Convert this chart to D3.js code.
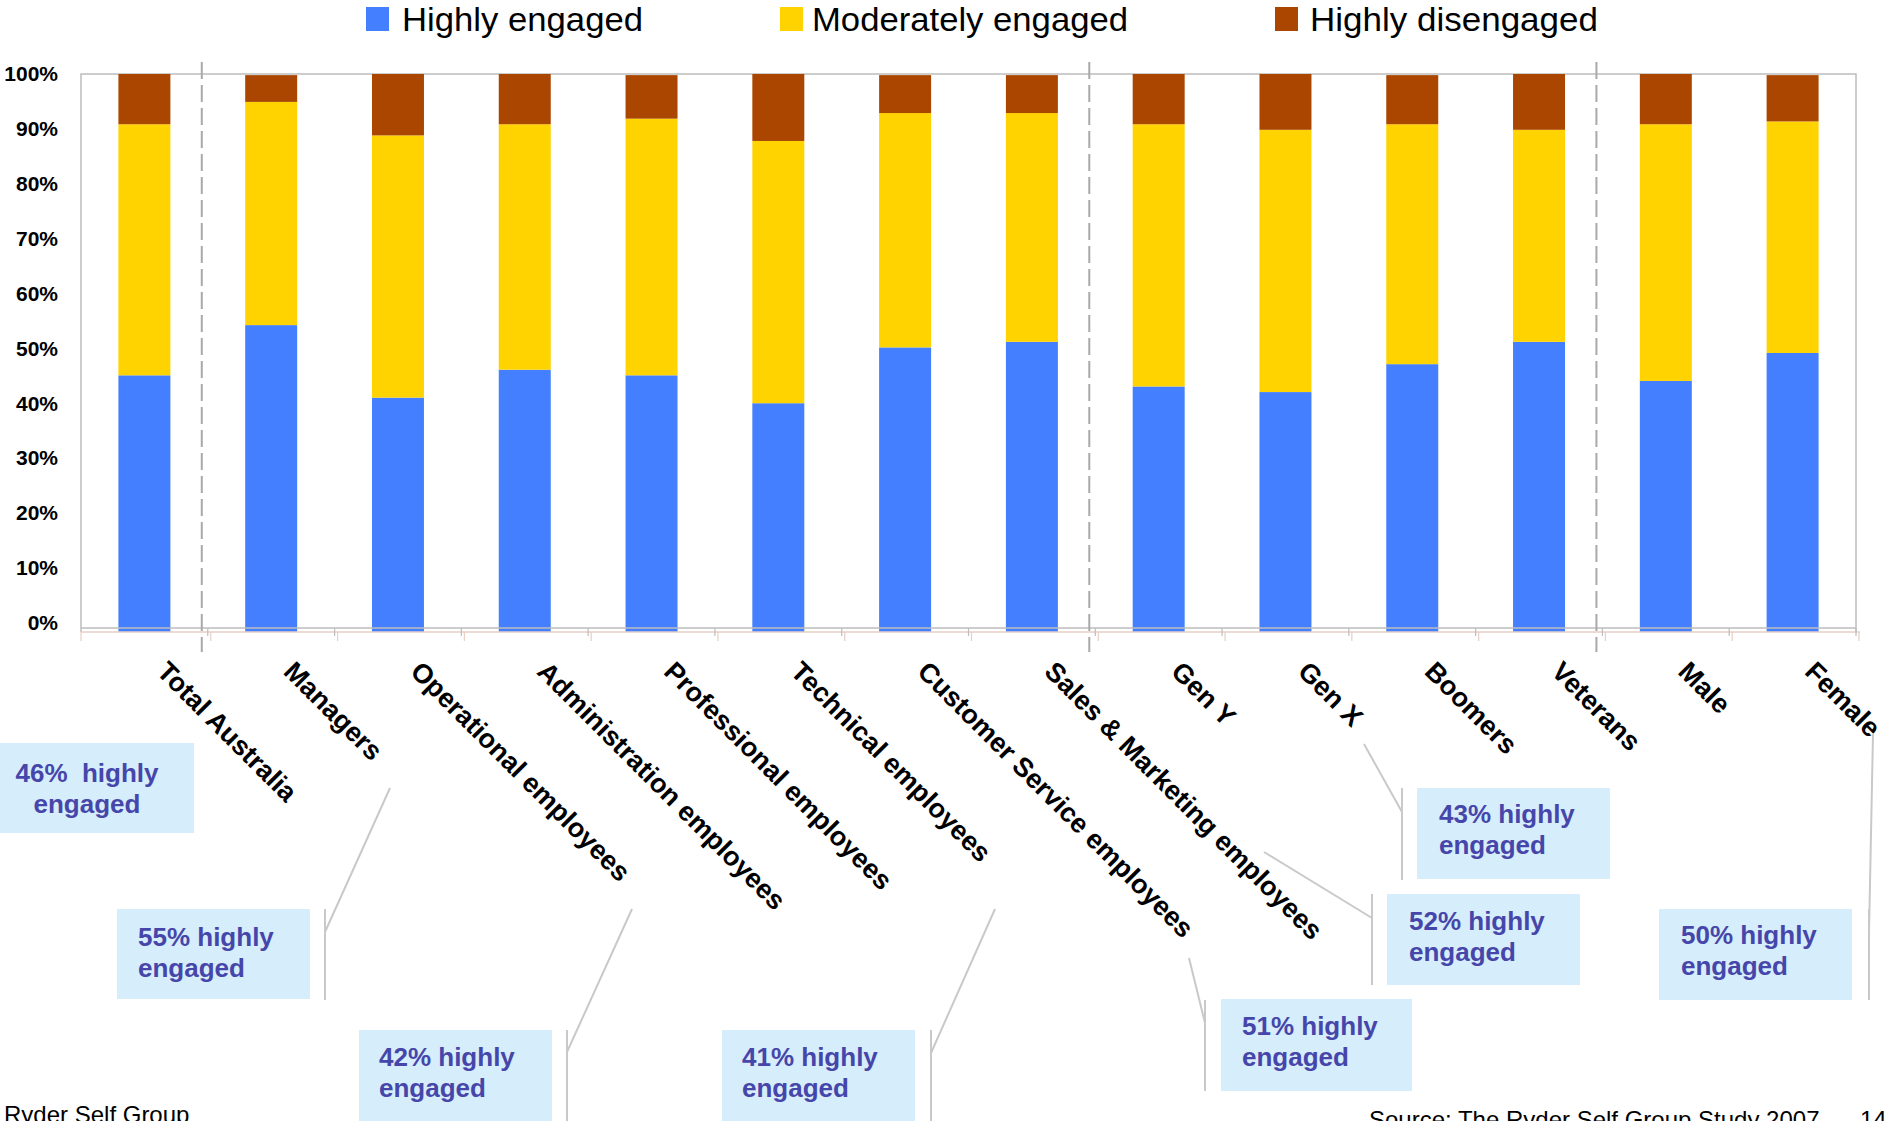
<!DOCTYPE html>
<html>
<head>
<meta charset="utf-8">
<script src="https://cdn.jsdelivr.net/npm/d3@7"></script>
<style>
  html, body { margin: 0; padding: 0; background: #fff; }
  svg { display: block; font-family: "Liberation Sans", Arial, sans-serif; }
</style>
</head>
<body>
<svg id="chart" width="1888" height="1121"></svg>
<script>
// Engagement levels by employee group (percent of respondents)
const categories = [
  "Total Australia", "Managers", "Operational employees", "Administration employees",
  "Professional employees", "Technical employees", "Customer Service employees",
  "Sales & Marketing employees", "Gen Y", "Gen X", "Boomers", "Veterans", "Male", "Female"
];
const highlyEngaged     = [46, 55, 42, 47, 46, 41, 51, 52, 44, 43, 48, 52, 45, 50];
const moderatelyEngaged = [45, 40, 47, 44, 46, 47, 42, 41, 47, 47, 43, 38, 46, 41.5];
const highlyDisengaged  = [9, 4.8, 11, 9, 7.8, 12, 6.8, 6.8, 9, 10, 8.8, 10, 9, 8.3];

const seriesNames = ["Highly engaged", "Moderately engaged", "Highly disengaged"];
const seriesColors = ["#437FFE", "#FFD300", "#AA4600"];
const yTicks = [0, 10, 20, 30, 40, 50, 60, 70, 80, 90, 100];

// Groups start at these categories (dashed dividers drawn before them)
const groupStarts = ["Managers", "Gen Y", "Male"];

// Categories that get a "% highly engaged" callout
const calloutCategories = [
  "Total Australia", "Managers", "Operational employees", "Technical employees",
  "Customer Service employees", "Sales & Marketing employees", "Gen X", "Female"
];

const footerLeft = "Ryder Self Group";
const footerSource = "Source: The Ryder Self Group Study 2007";
const pageNumber = "14";

// ---------- layout ----------
const svg = d3.select("#chart");
const plot = { left: 81, right: 1856, top: 74, bottom: 632 };

const x = d3.scaleBand()
  .domain(categories)
  .range([plot.left, plot.right])
  .paddingInner(0.59)
  .paddingOuter(0.295);

const y = d3.scaleLinear().domain([0, 100]).range([plot.bottom, plot.top]);

const table = categories.map((c, i) => ({
  category: c,
  "Highly engaged": highlyEngaged[i],
  "Moderately engaged": moderatelyEngaged[i],
  "Highly disengaged": highlyDisengaged[i]
}));
const stacked = d3.stack().keys(seriesNames)(table);
const color = d3.scaleOrdinal().domain(seriesNames).range(seriesColors);

// plot frame (left, top, right)
const axisGray = "#BDBDBD";
svg.append("path")
  .attr("d", `M${plot.left},${y(0)}V${y(100)}H${plot.right}V${y(0)}`)
  .attr("fill", "none").attr("stroke", axisGray).attr("stroke-width", 1.5);

// bars
svg.append("g").selectAll("g")
  .data(stacked)
  .join("g")
  .attr("fill", d => color(d.key))
  .selectAll("rect")
  .data(d => d)
  .join("rect")
  .attr("x", d => x(d.data.category))
  .attr("width", x.bandwidth())
  .attr("y", d => y(d[1]))
  .attr("height", d => y(d[0]) - y(d[1]));

// category axis: double baseline with boundary ticks
const step = x.step();
const boundaries = d3.range(categories.length + 1).map(i => plot.left + i * step);
const axisY = y(0) - 4;
svg.append("line")
  .attr("x1", plot.left).attr("x2", plot.right + 4)
  .attr("y1", axisY + 4).attr("y2", axisY + 4)
  .attr("stroke", "#E6CFC4").attr("stroke-width", 1.5);
svg.append("line")
  .attr("x1", plot.left).attr("x2", plot.right)
  .attr("y1", axisY).attr("y2", axisY)
  .attr("stroke", axisGray).attr("stroke-width", 1.5);
svg.append("g").selectAll("line.gt")
  .data(boundaries.slice(1))
  .join("line")
  .attr("x1", d => d).attr("x2", d => d)
  .attr("y1", axisY).attr("y2", axisY + 8)
  .attr("stroke", axisGray).attr("stroke-width", 1.2);
svg.append("g").selectAll("line.pt")
  .data(boundaries)
  .join("line")
  .attr("x1", (d, i) => i === 0 ? d : d + 3).attr("x2", (d, i) => i === 0 ? d : d + 3)
  .attr("y1", axisY + 4).attr("y2", axisY + 13)
  .attr("stroke", "#E6CFC4").attr("stroke-width", 1.2);

// dashed group dividers
svg.append("g").selectAll("line")
  .data(groupStarts)
  .join("line")
  .attr("x1", d => x(d) - step * 0.295 - 6)
  .attr("x2", d => x(d) - step * 0.295 - 6)
  .attr("y1", 62).attr("y2", 652)
  .attr("stroke", "#A9A9A9").attr("stroke-width", 2)
  .attr("stroke-dasharray", "17,6");

// value axis labels
svg.append("g").selectAll("text")
  .data(yTicks)
  .join("text")
  .attr("x", 58)
  .attr("y", d => y(d) - 9 + 8.4 * d / 100)
  .attr("dy", "0.35em")
  .attr("text-anchor", "end")
  .attr("font-size", 21).attr("font-weight", "bold").attr("fill", "#000")
  .text(d => d + "%");

// category labels, rotated 45°
svg.append("g").selectAll("text")
  .data(categories)
  .join("text")
  .attr("transform", d => `translate(${x(d) + x.bandwidth() / 2 + 11},673) rotate(45)`)
  .attr("font-size", 27).attr("font-weight", "bold").attr("fill", "#000")
  .text(d => d);

// legend
const legendLayout = [
  { sx: 366, tx: 402, w: 241 },
  { sx: 780, tx: 812, w: 316 },
  { sx: 1275, tx: 1310, w: 288 }
];
const legend = svg.append("g").selectAll("g")
  .data(seriesNames)
  .join("g");
legend.append("rect")
  .attr("x", (d, i) => legendLayout[i].sx).attr("y", 7)
  .attr("width", 23).attr("height", 24)
  .attr("fill", d => color(d));
legend.append("text")
  .attr("x", (d, i) => legendLayout[i].tx).attr("y", 31)
  .attr("font-size", 34).attr("fill", "#000")
  .attr("textLength", (d, i) => legendLayout[i].w)
  .attr("lengthAdjust", "spacingAndGlyphs")
  .text(d => d);

// callout boxes: box, text placement and leader lines
const calloutLayout = [
  { box: [0, 743, 194, 90], tx: 87, anchor: "middle", b1: 782, lead: null },
  { box: [117, 909, 193, 90], tx: 138, anchor: "start", b1: 946,
    lead: [[325, 909], [325, 1000], [325, 932], [390, 788]] },
  { box: [359, 1030, 193, 95], tx: 379, anchor: "start", b1: 1066,
    lead: [[567, 1030], [567, 1121], [567, 1052], [632, 909]] },
  { box: [722, 1030, 193, 95], tx: 742, anchor: "start", b1: 1066,
    lead: [[931, 1030], [931, 1121], [931, 1053], [995, 909]] },
  { box: [1221, 999, 191, 92], tx: 1242, anchor: "start", b1: 1035,
    lead: [[1205, 1000], [1205, 1091], [1205, 1023], [1189, 958]] },
  { box: [1387, 894, 193, 91], tx: 1409, anchor: "start", b1: 930,
    lead: [[1372, 894], [1372, 985], [1372, 918], [1264, 852]] },
  { box: [1417, 788, 193, 91], tx: 1439, anchor: "start", b1: 823,
    lead: [[1402, 788], [1402, 880], [1402, 812], [1364, 744]] },
  { box: [1659, 909, 193, 91], tx: 1681, anchor: "start", b1: 944,
    lead: [[1869, 909], [1869, 1000], [1869, 933], [1873, 734]] }
];

const callouts = svg.append("g").selectAll("g")
  .data(calloutCategories)
  .join("g");

callouts.each(function (cat, i) {
  const g = d3.select(this);
  const L = calloutLayout[i];
  const v = highlyEngaged[categories.indexOf(cat)];
  if (L.lead) {
    const p = L.lead;
    g.append("path")
      .attr("d", `M${p[0][0]},${p[0][1]}L${p[1][0]},${p[1][1]}M${p[2][0]},${p[2][1]}L${p[3][0]},${p[3][1]}`)
      .attr("fill", "none").attr("stroke", "#C9C9C9").attr("stroke-width", 2);
  }
  g.append("rect")
    .attr("x", L.box[0]).attr("y", L.box[1])
    .attr("width", L.box[2]).attr("height", L.box[3])
    .attr("fill", "#D6EDFC");
  const t = g.append("text")
    .attr("font-size", 26).attr("font-weight", "bold").attr("fill", "#4646AA")
    .attr("text-anchor", L.anchor);
  t.append("tspan").attr("x", L.tx).attr("y", L.b1)
    .text(i === 0 ? `${v}%\u00A0 highly` : `${v}% highly`);
  t.append("tspan").attr("x", L.tx).attr("y", L.b1 + 31).text("engaged");
});

// footer
svg.append("text").attr("x", 4).attr("y", 1123)
  .attr("font-size", 24).attr("fill", "#000").text(footerLeft);
svg.append("text").attr("x", 1369).attr("y", 1128)
  .attr("font-size", 24).attr("fill", "#000").text(footerSource);
svg.append("text").attr("x", 1860).attr("y", 1128)
  .attr("font-size", 24).attr("fill", "#000").text(pageNumber);
</script>
</body>
</html>
